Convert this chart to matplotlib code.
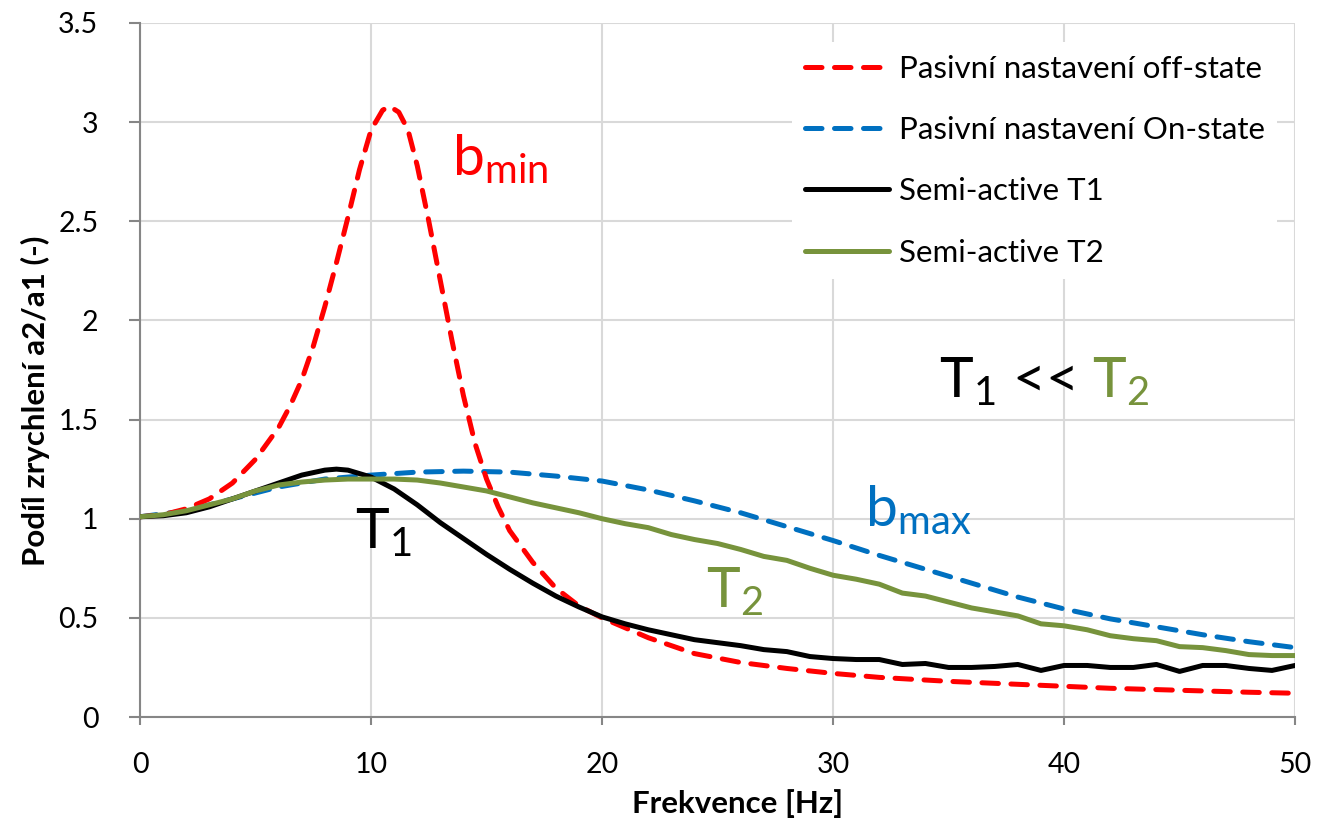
import matplotlib
matplotlib.use("Agg")
import matplotlib.pyplot as plt

plt.rcParams['font.family'] = ['Lato', 'DejaVu Sans']
plt.rcParams['mathtext.fontset'] = 'custom'
plt.rcParams['mathtext.rm'] = 'Lato'

# ---- data ----
f_off = [0, 1, 2, 3, 4, 5, 6, 6.5, 7, 7.5, 8, 8.5, 9, 9.5, 10, 10.5, 10.8, 11.2, 11.6,
         12, 12.5, 13, 13.5, 14, 14.5, 15, 15.5, 16, 17, 18, 19, 20, 22, 24, 26, 28,
         30, 32, 35, 38, 40, 42, 45, 48, 50]
v_off = [1.01, 1.02, 1.05, 1.10, 1.18, 1.30, 1.46, 1.57, 1.70, 1.87, 2.07, 2.29, 2.52,
         2.76, 2.96, 3.06, 3.08, 3.05, 2.96, 2.78, 2.50, 2.20, 1.90, 1.62, 1.38, 1.20,
         1.06, 0.94, 0.78, 0.65, 0.56, 0.50, 0.40, 0.32, 0.275, 0.245, 0.22, 0.20,
         0.18, 0.165, 0.155, 0.145, 0.135, 0.125, 0.12]

f_on = [0, 2, 4, 6, 8, 10, 12, 14, 16, 18, 20, 22, 24, 26, 28, 30, 32, 34, 36, 38,
        40, 42, 44, 46, 48, 50]
v_on = [1.01, 1.04, 1.10, 1.16, 1.20, 1.22, 1.235, 1.24, 1.235, 1.215, 1.19, 1.145,
        1.09, 1.03, 0.96, 0.89, 0.815, 0.745, 0.675, 0.605, 0.545, 0.495, 0.455,
        0.415, 0.38, 0.35]

f_t1 = [0, 1, 2, 3, 4, 5, 6, 7, 8, 8.5, 9, 10, 11, 12, 13, 14, 15, 16, 17, 18, 19,
        20, 21, 22, 23, 24, 25, 26, 27, 28, 29, 30, 31, 32, 33, 34, 35, 36, 37, 38,
        39, 40, 41, 42, 43, 44, 45, 46, 47, 48, 49, 50]
v_t1 = [1.01, 1.015, 1.03, 1.06, 1.10, 1.14, 1.18, 1.22, 1.245, 1.25, 1.245, 1.21,
        1.15, 1.07, 0.98, 0.90, 0.82, 0.745, 0.675, 0.61, 0.555, 0.505, 0.47, 0.44,
        0.415, 0.39, 0.375, 0.36, 0.34, 0.33, 0.305, 0.295, 0.29, 0.29, 0.265, 0.27,
        0.25, 0.25, 0.255, 0.265, 0.235, 0.26, 0.26, 0.25, 0.25, 0.265, 0.23, 0.26,
        0.26, 0.245, 0.235, 0.26]

f_t2 = list(range(0, 51))
v_t2 = [1.01, 1.02, 1.04, 1.07, 1.10, 1.14, 1.17, 1.185, 1.195, 1.20, 1.20, 1.20,
        1.195, 1.18, 1.16, 1.14, 1.11, 1.08, 1.055, 1.03, 1.00, 0.975, 0.955, 0.92,
        0.895, 0.875, 0.845, 0.81, 0.79, 0.75, 0.715, 0.695, 0.67, 0.625, 0.61, 0.58,
        0.55, 0.53, 0.51, 0.47, 0.46, 0.44, 0.41, 0.395, 0.385, 0.355, 0.35, 0.335,
        0.315, 0.31, 0.31]

labels = ["Pasivní nastavení off-state", "Pasivní nastavení On-state",
          "Semi-active T1", "Semi-active T2"]
x_ticks = [0, 10, 20, 30, 40, 50]
y_ticks = [0, 0.5, 1, 1.5, 2, 2.5, 3, 3.5]
y_tick_labels = ['0', '0.5', '1', '1.5', '2', '2.5', '3', '3.5']

# ---- figure ----
fig = plt.figure(figsize=(13.35, 8.19), dpi=100)
ax = fig.add_axes([0.1049, 0.1245, 0.8652, 0.8475])

red = '#ff0000'
blue = '#0070c0'
black = '#000000'
green = '#77933c'
lw = 3.6

l1, = ax.plot(f_off, v_off, color=red, lw=lw, dashes=(3.3, 2.5),
              dash_capstyle='round', solid_joinstyle='round', zorder=4)
l2, = ax.plot(f_on, v_on, color=blue, lw=lw, dashes=(3.3, 2.5),
              dash_capstyle='round', solid_joinstyle='round', zorder=3)
l3, = ax.plot(f_t1, v_t1, color=black, lw=lw, solid_capstyle='round',
              solid_joinstyle='round', zorder=5)
l4, = ax.plot(f_t2, v_t2, color=green, lw=lw, solid_capstyle='round',
              solid_joinstyle='round', zorder=6)

ax.set_xlim(0, 50)
ax.set_ylim(0, 3.5)
ax.set_xticks(x_ticks)
ax.set_yticks(y_ticks)
ax.set_yticklabels(y_tick_labels)
ax.grid(True, color='#d9d9d9', lw=1.5, zorder=0)
ax.set_axisbelow(True)
for s in ['top', 'right']:
    ax.spines[s].set_visible(False)
for s in ['left', 'bottom']:
    ax.spines[s].set_color('#868686')
    ax.spines[s].set_linewidth(1.5)
ax.tick_params(axis='both', colors='#868686', width=1.5, labelcolor='black',
               labelsize=20.5, direction='out')
ax.tick_params(axis='y', length=8, pad=22)
ax.tick_params(axis='x', length=6, pad=19)

ax.set_xlabel('Frekvence [Hz]', fontsize=22.5, fontweight='bold')
ax.set_ylabel('Podíl zrychlení a2/a1 (-)', fontsize=22.5, fontweight='bold')
ax.xaxis.set_label_coords(0.517, -0.104)
ax.yaxis.set_label_coords(-0.078, 0.455)

leg = ax.legend([l1, l2, l3, l4], labels, loc='upper right',
                bbox_to_anchor=(0.998, 0.995), fontsize=22.5, frameon=True,
                facecolor='white', edgecolor='none', framealpha=1,
                handlelength=2.7, handletextpad=0.3, labelspacing=1.07,
                borderpad=0.4, fancybox=False)
leg.set_zorder(10)

# annotations
fs = 41
ax.text(13.5, 2.73, r'$\mathregular{b_{min}}$', color=red, fontsize=fs, va='baseline')
ax.text(31.4, 0.96, r'$\mathregular{b_{max}}$', color=blue, fontsize=fs, va='baseline')
ax.text(9.3, 0.85, r'$\mathregular{T_{1}}$', color=black, fontsize=fs, va='baseline')
ax.text(24.5, 0.555, r'$\mathregular{T_{2}}$', color=green, fontsize=fs, va='baseline')
ax.text(34.6, 1.61, r'$\mathregular{T_{1}}$ <<', color=black, fontsize=fs, va='baseline')
ax.text(41.2, 1.61, r'$\mathregular{T_{2}}$', color=green, fontsize=fs, va='baseline')

fig.savefig('out.png', dpi=100)
